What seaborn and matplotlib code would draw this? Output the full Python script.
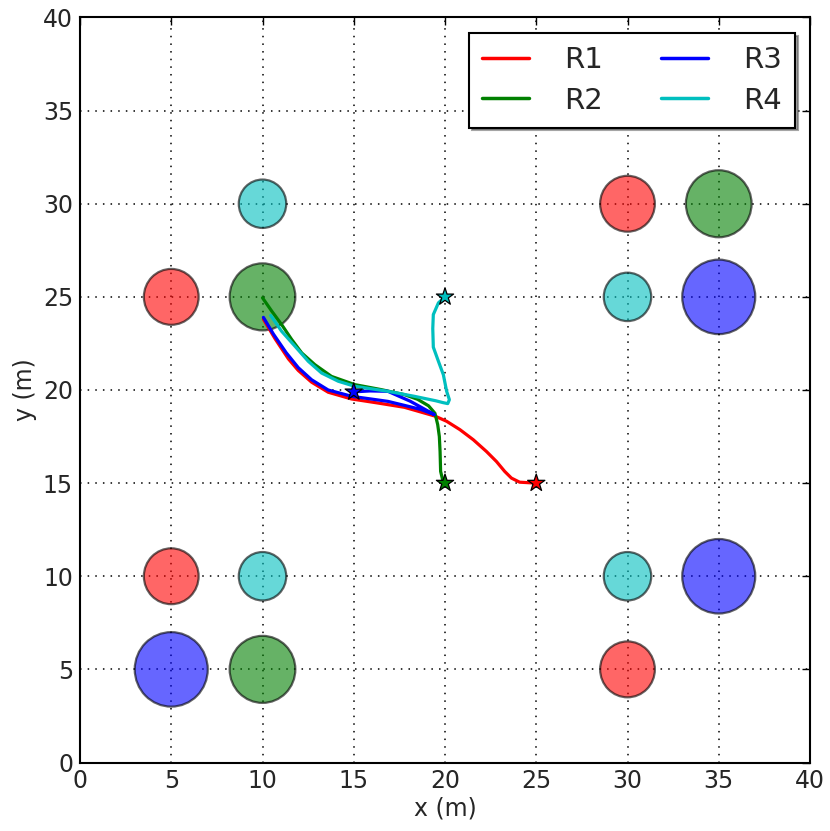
import numpy as np
import pandas as pd
import matplotlib
matplotlib.use("Agg")
import matplotlib.pyplot as plt
from matplotlib.patches import Circle
import seaborn as sns

# ---- data ----
robots = ["R1", "R2", "R3", "R4"]
colors = {"R1": "#ff0000", "R2": "#008000", "R3": "#0000ff", "R4": "#00bfbf"}

r1_x = [10.05, 10.69, 11.42, 11.96, 12.69, 13.6, 14.87, 16.33, 17.78, 19.45, 20.09, 20.82,
        21.55, 22.27, 22.82, 23.27, 23.64, 24.09, 25.0]
r1_y = [23.8, 22.75, 21.67, 21.05, 20.42, 19.88, 19.52, 19.3, 19.07, 18.6, 18.32, 17.87,
        17.33, 16.7, 16.16, 15.63, 15.27, 15.05, 15.0]

r2_x = [10.0, 10.51, 11.05, 11.6, 12.15, 12.87, 13.78, 15.05, 16.51, 17.78, 18.5, 19.1,
        19.45, 19.6, 19.69, 19.73, 19.76, 19.87, 20.0]
r2_y = [24.95, 24.23, 23.51, 22.71, 21.99, 21.36, 20.73, 20.29, 20.02, 19.75, 19.5, 19.15,
        18.75, 18.14, 17.5, 16.7, 15.63, 15.18, 15.0]

r3_x = [10.05, 10.6, 11.3, 11.96, 12.69, 13.6, 14.9, 16.87, 18.09, 18.69, 19.42,
        18.09, 16.87, 15.9, 15.0]
r3_y = [23.9, 23.0, 22.0, 21.2, 20.55, 20.0, 19.66, 19.39, 19.1, 18.95, 18.68,
        19.4, 19.93, 19.95, 19.9]

r4_x = [10.45, 11.05, 11.78, 12.51, 13.24, 14.15, 15.05, 16.87, 18.33, 19.5, 19.9, 20.15,
        20.24, 20.09, 19.91, 19.64, 19.36, 19.33, 19.36, 19.64, 20.0]
r4_y = [24.0, 23.15, 22.35, 21.54, 20.91, 20.47, 20.2, 19.93, 19.66, 19.42, 19.32, 19.27,
        19.48, 19.93, 20.82, 21.54, 22.3, 23.3, 24.05, 24.68, 25.0]

goal_x = [25.0, 20.0, 15.0, 20.0]
goal_y = [15.0, 15.0, 19.9, 25.0]

# obstacle circles
circ_x = [5, 30, 5, 30, 10, 30, 10, 30, 35, 10, 10, 35, 35, 5]
circ_y = [25, 30, 10, 5, 30, 25, 10, 10, 30, 25, 5, 25, 10, 5]
circ_r = [1.5, 1.5, 1.5, 1.5, 1.3, 1.3, 1.3, 1.3, 1.8, 1.8, 1.8, 2.0, 2.0, 2.0]
circ_c = ["R1", "R1", "R1", "R1", "R4", "R4", "R4", "R4", "R2", "R2", "R2", "R3", "R3", "R3"]

traj = pd.concat([
    pd.DataFrame({"x": r1_x, "y": r1_y, "robot": "R1"}),
    pd.DataFrame({"x": r2_x, "y": r2_y, "robot": "R2"}),
    pd.DataFrame({"x": r3_x, "y": r3_y, "robot": "R3"}),
    pd.DataFrame({"x": r4_x, "y": r4_y, "robot": "R4"}),
], ignore_index=True)
goals = pd.DataFrame({"x": goal_x, "y": goal_y, "robot": robots})

# ---- style ----
sns.set_theme(style="white")
plt.rcParams["font.family"] = ["DejaVu Sans"]
plt.rcParams["axes.edgecolor"] = "black"
plt.rcParams["axes.linewidth"] = 1.5

fig = plt.figure(figsize=(8.30, 8.31), dpi=100)
ax = fig.add_axes([80 / 830, (831 - 762.5) / 831, 730 / 830, 745 / 831])

for cx, cy, r, c in zip(circ_x, circ_y, circ_r, circ_c):
    ax.add_patch(Circle((cx, cy), r, facecolor=colors[c], edgecolor="black",
                        linewidth=1.6, alpha=0.6, zorder=1))

sns.lineplot(data=traj, x="x", y="y", hue="robot", palette=colors, sort=False,
             estimator=None, linewidth=2.3, ax=ax, zorder=3, hue_order=robots)
for ln in ax.get_lines():
    ln.set_solid_joinstyle("round")
    ln.set_solid_capstyle("round")
sns.scatterplot(data=goals, x="x", y="y", hue="robot", palette=colors, marker="*",
                s=170, edgecolor="black", linewidth=0.9, ax=ax, zorder=4,
                legend=False, hue_order=robots)

ax.set_xlim(0, 40)
ax.set_ylim(0, 40)
ax.set_xticks(np.arange(0, 41, 5))
ax.set_yticks(np.arange(0, 41, 5))
ax.set_xlabel("x (m)", fontsize=17, labelpad=2)
ax.set_ylabel("y (m)", fontsize=17, labelpad=4)
ax.tick_params(axis="both", which="major", direction="in", length=6, width=1,
               top=True, right=True, labelsize=17, pad=5, color="black")
ax.grid(True, linestyle=(0, (1, 4)), color="black", linewidth=1.1)
ax.set_axisbelow(True)
for s in ax.spines.values():
    s.set_color("black")
    s.set_linewidth(1.5)

handles, labels = ax.get_legend_handles_labels()
leg = ax.legend(handles, labels, loc="upper right", ncol=2, fontsize=21,
                frameon=True, fancybox=False, shadow=True, framealpha=1,
                edgecolor="black", handlelength=1.6, handletextpad=1.2,
                columnspacing=2.0, labelspacing=0.42, borderpad=0.45,
                borderaxespad=0, bbox_to_anchor=(0.9795, 0.979))
leg.get_frame().set_linewidth(1.5)
for line in leg.get_lines():
    line.set_linewidth(2.5)

fig.savefig("out.png", dpi=100)
